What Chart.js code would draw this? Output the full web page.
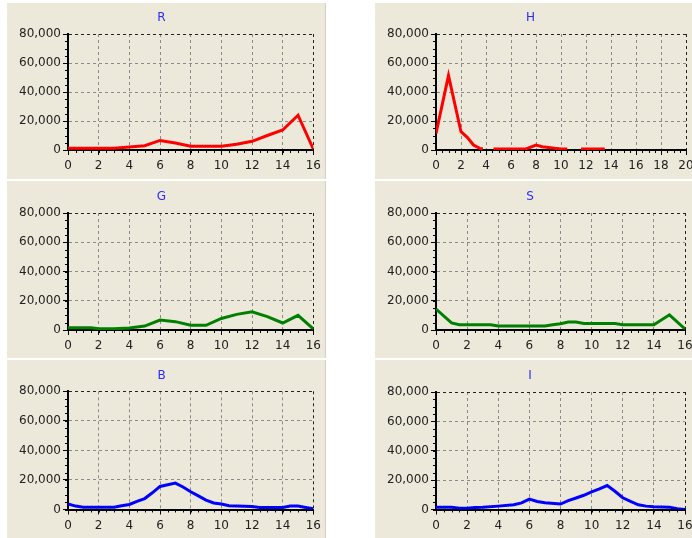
<!DOCTYPE html>
<html><head><meta charset="utf-8">
<script src="https://cdn.jsdelivr.net/npm/chart.js@4.4.0/dist/chart.umd.min.js"></script>
<style>
html,body{margin:0;padding:0;background:#fff;width:692px;height:538px;overflow:hidden;position:relative}
.panel{position:absolute;background:#EDE9DA;overflow:hidden}
.left{border-right:1px solid #d4d0c4}
canvas{display:block}
</style></head><body>
<div class="panel left" style="left:7px;top:3px;width:318px;height:176px"><canvas id="cR" width="318" height="176"></canvas></div>
<div class="panel" style="left:375px;top:3px;width:330px;height:176px"><canvas id="cH" width="330" height="176"></canvas></div>
<div class="panel left" style="left:7px;top:181px;width:318px;height:177px"><canvas id="cG" width="318" height="177"></canvas></div>
<div class="panel" style="left:375px;top:181px;width:330px;height:177px"><canvas id="cS" width="330" height="177"></canvas></div>
<div class="panel left" style="left:7px;top:360px;width:318px;height:178px"><canvas id="cB" width="318" height="178"></canvas></div>
<div class="panel" style="left:375px;top:360px;width:330px;height:178px"><canvas id="cI" width="330" height="178"></canvas></div>
<script>
// ---- data ----
const yMax = 80000, yStep = 20000, yMinorStep = 5000;
const xStep = 2, xMinorStep = 0.5;

const rX = [0,1,2,3,4,5,6,7,8,9,10,11,12,13,14,15,16];
const rY = [1200,1200,1200,1200,2000,3000,6600,4800,2600,2600,2600,3900,6000,10000,13800,24000,600];

const hX = [0,1,2,2.5,3,3.5,3.75,4.1,4.6,7.2,8,8.5,9,9.5,10,10.5,11,11.6,13.5];
const hY = [11500,51300,12600,8700,3400,1100,900,null,700,700,3400,2300,1800,1200,700,700,null,700,700];

const gX = [0,1,1.5,2,3,4,5,6,7,8,9,10,11,12,13,14,15,16];
const gY = [1600,1600,1600,800,800,1400,2700,6800,5700,3200,3200,7900,10700,12500,9100,4800,10000,700];

const sX = [0,1,1.5,3.5,4,7,7.5,8,8.5,9,9.5,11.5,12,14,15,16];
const sY = [14300,4800,3600,3600,2700,2700,3600,4300,5400,5400,4500,4500,3600,3600,10400,700];

const bX = [0,0.5,1,3,3.5,4,4.5,5,5.5,6,6.5,7,7.5,8,8.5,9,9.5,10,10.5,11,12,12.5,14,14.5,15,15.5,16];
const bY = [3700,2300,1600,1600,2500,3400,5500,7400,11300,15600,16800,17900,15200,12000,9200,6400,4400,3700,2500,2300,2100,1400,1400,2300,2300,1400,500];

const iX = [0,1,1.5,2,2.5,3,4,5,5.5,6,6.5,7,8,8.5,9,9.5,10,10.5,11,11.5,12,12.5,13,13.5,14,15,15.5,16];
const iY = [1600,1600,900,900,1400,1600,2300,3200,4500,7100,5500,4600,3700,6000,7800,9700,12000,14000,16300,12400,8000,5500,3200,2300,1800,1600,500,0];

// ---- drawing ----
const FONT = 'DejaVu Sans';
const minorTicks = {
  id: 'minorTicks',
  afterDraw(chart) {
    const {ctx, chartArea, scales: {x, y}} = chart;
    ctx.save();
    ctx.strokeStyle = '#000';
    ctx.lineWidth = 1;
    ctx.beginPath();
    for (let v = x.min; v <= x.max + 1e-9; v += xMinorStep) {
      const px = Math.round(x.getPixelForValue(v)) + 0.5;
      ctx.moveTo(px, chartArea.bottom);
      ctx.lineTo(px, chartArea.bottom + 3);
    }
    for (let v = y.min; v <= y.max + 1e-9; v += yMinorStep) {
      const py = Math.round(y.getPixelForValue(v)) + 0.5;
      ctx.moveTo(chartArea.left, py);
      ctx.lineTo(chartArea.left - 3, py);
    }
    ctx.stroke();
    ctx.restore();
  }
};

function makeChart(id, title, color, xs, ys, xMax, g) {
  const pts = xs.map((v, i) => ({x: v, y: ys[i]}));
  const gridColor = (ctx, max) => {
    const v = ctx.tick ? ctx.tick.value : null;
    if (v === 0) return 'rgba(0,0,0,0)';
    if (v === max) return '#222';
    return '#8a8a8a';
  };
  new Chart(document.getElementById(id), {
    type: 'line',
    data: { datasets: [{ data: pts, borderColor: color, borderWidth: 3, pointRadius: 0, tension: 0, spanGaps: false, fill: false }] },
    options: {
      responsive: false, animation: false, events: [],
      layout: { padding: { left: 0, right: g.right, top: 0, bottom: 0 } },
      plugins: {
        legend: { display: false }, tooltip: { enabled: false },
        title: { display: true, text: title, color: '#2a2aff', font: { family: FONT, size: 12, weight: 'normal' },
                 padding: { top: g.tTop, bottom: g.tBottom } }
      },
      scales: {
        x: {
          type: 'linear', min: 0, max: xMax,
          ticks: { stepSize: xStep, color: '#222', font: { family: FONT, size: 12 }, padding: 4, maxRotation: 0, autoSkip: false },
          grid: { color: c => gridColor(c, xMax), lineWidth: 1, tickLength: 5, tickColor: '#000', tickWidth: 1 },
          border: { display: true, color: '#000', width: 2, dash: [3, 3] },
          afterFit: s => { s.height = g.xh; }
        },
        y: {
          min: 0, max: yMax,
          ticks: { stepSize: yStep, color: '#222', font: { family: FONT, size: 12 }, padding: 2, callback: v => v.toLocaleString('en-US') },
          grid: { color: c => gridColor(c, yMax), lineWidth: 1, tickLength: 5, tickColor: '#000', tickWidth: 1 },
          border: { display: true, color: '#000', width: 2, dash: [3, 3] },
          afterFit: s => { s.width = 61; }
        }
      }
    },
    plugins: [minorTicks]
  });
}

makeChart('cR', 'R', '#ff0000', rX, rY, 16, {right: 9,  tTop: 8, tBottom: 8.6, xh: 29});
makeChart('cH', 'H', '#ff0000', hX, hY, 20, {right: 19, tTop: 8, tBottom: 8.6, xh: 29});
makeChart('cG', 'G', '#008000', gX, gY, 16, {right: 9,  tTop: 9, tBottom: 8.6, xh: 28});
makeChart('cS', 'S', '#008000', sX, sY, 16, {right: 20, tTop: 9, tBottom: 8.6, xh: 28});
makeChart('cB', 'B', '#0000ff', bX, bY, 16, {right: 9,  tTop: 9, tBottom: 7.9, xh: 28.5});
makeChart('cI', 'I', '#0000ff', iX, iY, 16, {right: 20, tTop: 9, tBottom: 8.6, xh: 28.5});
</script>
</body></html>
